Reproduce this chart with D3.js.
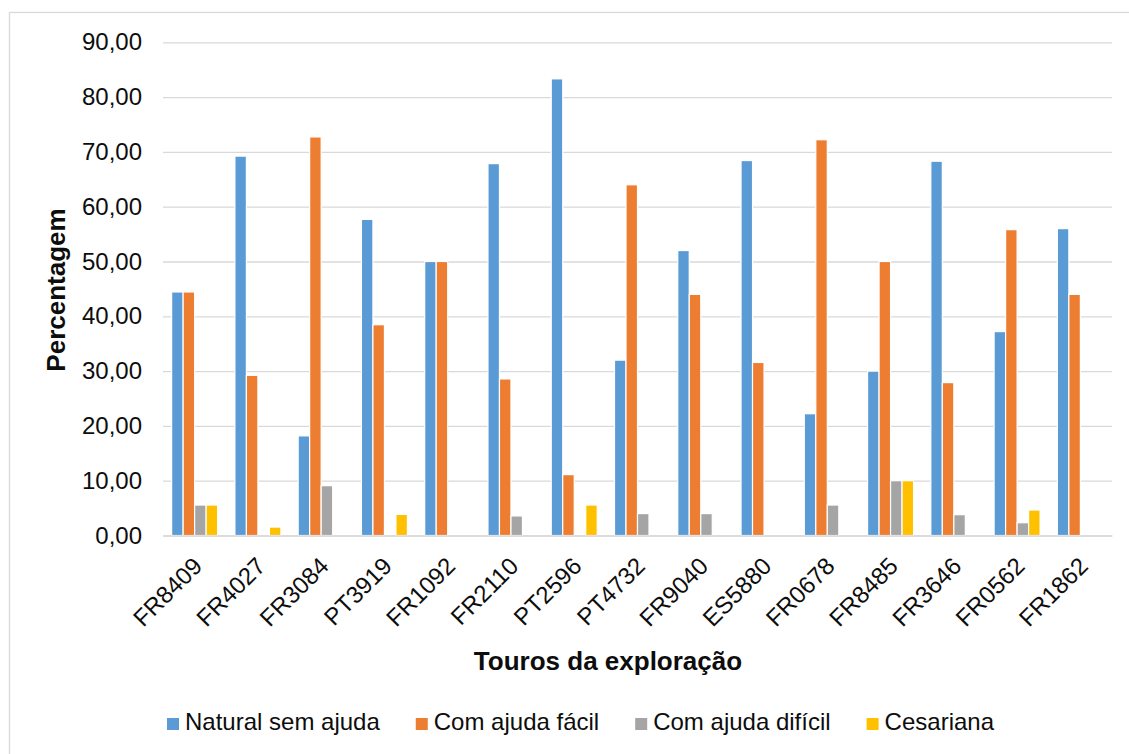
<!DOCTYPE html>
<html>
<head>
<meta charset="utf-8">
<script src="https://cdn.jsdelivr.net/npm/d3@7/dist/d3.min.js"></script>
<style>
  html, body { margin: 0; padding: 0; background: #fff; }
  svg { display: block; font-family: "Liberation Sans", Arial, sans-serif; }
</style>
</head>
<body>
<svg id="chart" width="1129" height="754"></svg>
<script>
// Bulls of the farm and the calving-type percentages for each one
const categories = ["FR8409", "FR4027", "FR3084", "PT3919", "FR1092", "FR2110", "PT2596",
  "PT4732", "FR9040", "ES5880", "FR0678", "FR8485", "FR3646", "FR0562", "FR1862"];
const seriesNames = ["Natural sem ajuda", "Com ajuda fácil", "Com ajuda difícil", "Cesariana"];
const naturalSemAjuda = [44.44, 69.23, 18.18, 57.69, 50.00, 67.86, 83.33, 32.00, 52.00, 68.42, 22.22, 30.00, 68.30, 37.21, 56.00];
const comAjudaFacil   = [44.44, 29.23, 72.73, 38.46, 50.00, 28.57, 11.11, 64.00, 44.00, 31.58, 72.22, 50.00, 27.90, 55.81, 44.00];
const comAjudaDificil = [5.56, 0, 9.09, 0, 0, 3.57, 0, 4.00, 4.00, 0, 5.56, 10.00, 3.80, 2.33, 0];
const cesariana       = [5.56, 1.54, 0, 3.85, 0, 0, 5.56, 0, 0, 0, 0, 10.00, 0, 4.65, 0];
const yTicks = [0, 10, 20, 30, 40, 50, 60, 70, 80, 90];
const colors = ["#5B9BD5", "#ED7D31", "#A5A5A5", "#FFC000"];

const values = [naturalSemAjuda, comAjudaFacil, comAjudaDificil, cesariana];
const table = categories.map((c, i) => ({
  cat: c,
  vals: seriesNames.map((s, k) => ({ series: s, value: values[k][i] }))
}));

const svg = d3.select("#chart");
const plot = { left: 163, right: 1112, top: 42.3, bottom: 535.5 };
const gridColor = "#d9d9d9";
const textColor = "#0d0d0d";

// outer chart frame
svg.append("rect")
  .attr("x", 9.5).attr("y", 12.5)
  .attr("width", 1300).attr("height", 900)
  .attr("fill", "#fff").attr("stroke", gridColor).attr("stroke-width", 1.3);

const pad = 1 - 46 / 63.27;
const x0 = d3.scaleBand().domain(categories)
  .range([plot.left, plot.right]).paddingInner(pad).paddingOuter(pad / 2);
const x1 = d3.scaleBand().domain(seriesNames).range([0, x0.bandwidth()]);
const y = d3.scaleLinear().domain([0, 90]).range([plot.bottom, plot.top]);
const fmt = v => d3.format(".2f")(v).replace(".", ",");

// horizontal gridlines and value labels
const yAxis = d3.axisLeft(y).tickValues(yTicks).tickFormat(fmt)
  .tickSize(-(plot.right - plot.left)).tickPadding(21);
const gy = svg.append("g").attr("transform", `translate(${plot.left},0)`).call(yAxis);
gy.select(".domain").remove();
gy.selectAll(".tick line").attr("stroke", gridColor).attr("stroke-width", 1.3);
gy.selectAll(".tick text")
  .attr("font-size", 24).attr("fill", textColor)
  .attr("font-family", "'Liberation Sans', Arial, sans-serif");

// bars
const groups = svg.append("g").selectAll("g").data(table).join("g")
  .attr("transform", d => `translate(${x0(d.cat)},0)`);
groups.selectAll("rect").data(d => d.vals.filter(v => v.value > 0)).join("rect")
  .attr("x", d => x1(d.series))
  .attr("y", d => y(d.value))
  .attr("width", x1.bandwidth())
  .attr("height", d => y(0) - y(d.value))
  .attr("fill", (d) => colors[seriesNames.indexOf(d.series)])
  .attr("stroke", "#fff").attr("stroke-width", 1.2);

// category axis
const xAxis = d3.axisBottom(x0).tickSize(0).tickPadding(0);
const gx = svg.append("g").attr("transform", `translate(0,${plot.bottom})`).call(xAxis);
gx.select(".domain").attr("stroke", gridColor).attr("stroke-width", 1.3);
gx.selectAll(".tick text")
  .attr("font-size", 24).attr("fill", textColor)
  .attr("font-family", "'Liberation Sans', Arial, sans-serif")
  .attr("text-anchor", "end")
  .attr("dy", 0).attr("y", 0)
  .attr("transform", "translate(9,32) rotate(-45)");

// axis titles
svg.append("text")
  .attr("transform", "translate(65,290) rotate(-90)")
  .attr("text-anchor", "middle").attr("font-size", 26).attr("font-weight", "bold")
  .attr("fill", textColor).text("Percentagem");
svg.append("text")
  .attr("x", 608).attr("y", 670)
  .attr("text-anchor", "middle").attr("font-size", 26).attr("font-weight", "bold")
  .attr("fill", textColor).text("Touros da exploração");

// legend
const legend = svg.append("g").attr("transform", "translate(167,730)");
let lx = 0;
seriesNames.forEach((name, k) => {
  const item = legend.append("g").attr("transform", `translate(${lx},0)`);
  item.append("rect").attr("x", 0).attr("y", -12).attr("width", 12).attr("height", 12)
    .attr("fill", colors[k]);
  const t = item.append("text").attr("x", 18).attr("y", 0)
    .attr("font-size", 24).attr("fill", textColor).text(name);
  lx += 18 + t.node().getComputedTextLength() + 36;
});
</script>
</body>
</html>
